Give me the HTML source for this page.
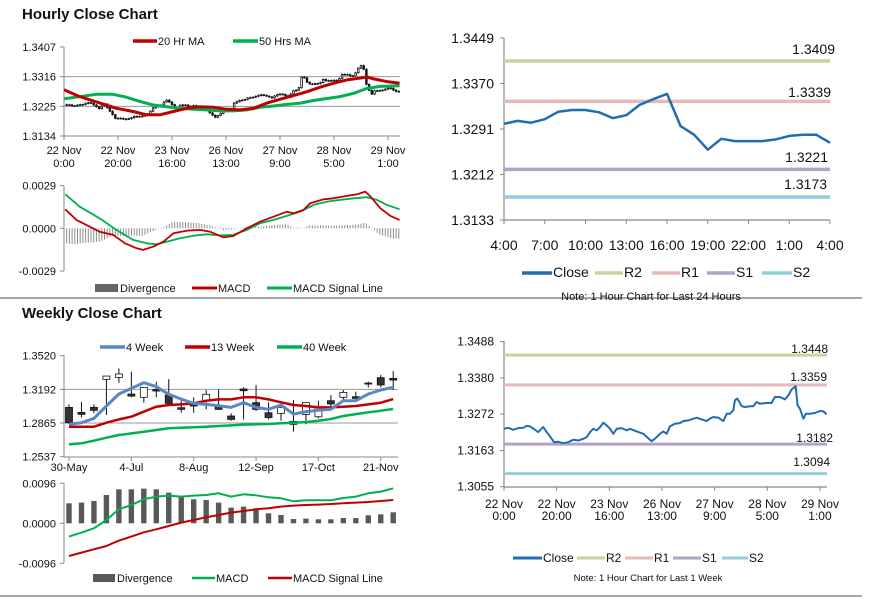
<!DOCTYPE html>
<html><head><meta charset="utf-8"><style>
html,body{margin:0;padding:0;background:#fff;width:873px;height:601px;overflow:hidden}
svg{display:block;font-family:"Liberation Sans",Arial,sans-serif}
</style></head><body>
<svg id="chart" width="873" height="601" viewBox="0 0 873 601" xmlns="http://www.w3.org/2000/svg">
<text x="22" y="19" font-size="15" font-weight="bold" fill="#111">Hourly Close Chart</text>
<text x="22" y="318" font-size="15" font-weight="bold" fill="#111">Weekly Close Chart</text>
<line x1="0" y1="298" x2="862" y2="298" stroke="#888" stroke-width="1.5"/>
<line x1="0" y1="596" x2="862" y2="596" stroke="#888" stroke-width="1.5"/>
</svg>
<script>
// ---------- data ----------
const hcHours=[0,1.6,3.5,5.4,7.3,8.6,9.9,11.8,13,14.9,16.5,17.5,19,20.6,22.5,24.4,26.3,28.2,30.1,31.4,32.7,33.9,35.2,36.5,37.7,39,40.3,41.5,42.8,44.7,46.6,47.8,50.4,52.9,55.4,56.1,58,59.2,60.5,61.8,63,64.9,66.8,68.1,70,71.9,73.2,75.1,77,78.2,79.5,81.4,83.3,84.6,85.8,87.1,87.7,88.6,90.3,91.5,93.4,94.7,95.9,97.2,99.7,101.6,102.9,104.8,106.7,108,109.2,110.8,111.5,112.4,113.7,114.7,116.2,118.1,120,121.3,122.5];
const hcValues=[1.3228,1.3231,1.3225,1.3230,1.3231,1.3237,1.3235,1.3225,1.3218,1.3233,1.3215,1.3205,1.3188,1.3189,1.3185,1.3188,1.3195,1.3193,1.3198,1.3203,1.3218,1.3228,1.3223,1.3233,1.3246,1.3238,1.3228,1.3213,1.3228,1.3230,1.3223,1.3228,1.3220,1.3213,1.3195,1.3191,1.3203,1.3213,1.3220,1.3213,1.3235,1.3243,1.3245,1.3251,1.3253,1.3258,1.3261,1.3256,1.3251,1.3258,1.3263,1.3261,1.3251,1.3273,1.3273,1.3283,1.3313,1.3318,1.3295,1.3293,1.3295,1.3295,1.3308,1.3303,1.3305,1.3305,1.3323,1.3323,1.3316,1.3328,1.3345,1.3355,1.3298,1.3288,1.3258,1.3273,1.3273,1.3275,1.3281,1.3280,1.3271];
const ma20Hours=[0,5.8,13.3,19.4,25.6,30.6,35.5,40.5,45.4,50.4,55.3,60.3,65.2,70.2,75.1,80.1,85,90,95,99.9,104.8,109.8,112.3,114.7,119.7,124.3];
const ma20Values=[1.3276,1.3255,1.3235,1.3219,1.3209,1.3199,1.3199,1.3209,1.3219,1.3224,1.3222,1.3216,1.3214,1.3219,1.3235,1.3247,1.3258,1.3270,1.3284,1.3296,1.3306,1.3312,1.3315,1.3309,1.3301,1.3296];
const ma50Hours=[0,5.8,12,18.2,23.1,28.1,33,38,42.9,47.9,52.8,57.8,62.7,67.7,72.6,77.6,82.5,87.5,92.4,97.4,102.3,107.3,112.2,117.2,124.3];
const ma50Values=[1.3248,1.3255,1.3262,1.3262,1.3253,1.3240,1.3229,1.3224,1.3219,1.3216,1.3214,1.3211,1.3211,1.3214,1.3222,1.3226,1.3231,1.3235,1.3243,1.3249,1.3255,1.3265,1.3280,1.3286,1.3288];
const hMacdHours=[0.5,4.6,9.5,13.2,18.2,22.6,26.9,29.3,33,36.8,40.5,45.4,50.4,54.1,59,62.7,67.7,72.6,77.6,82.5,85,88.7,91.2,96.2,99.9,104.8,108.5,111.6,113.5,117.2,120.9,124.3];
const hMacdValues=[0.00129,0.00057,0.00011,-0.00023,-0.00045,-0.00102,-0.00136,-0.00147,-0.00125,-0.00091,-0.00034,-0.00016,-0.00011,-0.00023,-0.00061,-0.00052,0,0.00045,0.00079,0.00113,0.00102,0.00125,0.0017,0.00197,0.00204,0.0022,0.00231,0.00249,0.00215,0.00136,0.00084,0.00057];
const hSigHours=[0.5,5.8,13.2,19.4,25.6,30.6,34.3,38,43,47.9,52.8,57.8,62.7,67.7,72.6,77.6,82.5,87.5,92.4,97.4,102.3,107.3,112.2,115.9,119.6,124.3];
const hSigValues=[0.00231,0.00147,0.00068,-0.00011,-0.00079,-0.00102,-0.00109,-0.00091,-0.00068,-0.0005,-0.00041,-0.00048,-0.00045,-0.00011,0.00034,0.00057,0.00084,0.00113,0.00159,0.00181,0.00193,0.00204,0.00211,0.00193,0.00159,0.00129];
const hourlyXLabels1=["22 Nov","22 Nov","23 Nov","26 Nov","27 Nov","28 Nov","29 Nov"];
const hourlyXLabels2=["0:00","20:00","16:00","13:00","9:00","5:00","1:00"];
const hourlyPriceTicks=[1.3407,1.3316,1.3225,1.3134];
const hourlyMacdTicks=[0.0029,0.0000,-0.0029];
const wOpen=[1.3017,1.2968,1.3017,1.3290,1.3309,1.3147,1.3115,1.3192,1.3137,1.3014,1.3046,1.3082,1.3030,1.2933,1.3196,1.3063,1.2965,1.2959,1.2852,1.2949,1.2926,1.3082,1.3115,1.3121,1.3254,1.3306,1.3299];
const wClose=[1.2868,1.2949,1.2988,1.3322,1.3342,1.3127,1.3212,1.3176,1.3056,1.2998,1.3030,1.3144,1.2998,1.2900,1.3179,1.2998,1.2917,1.3017,1.2881,1.3063,1.3017,1.3050,1.3163,1.3105,1.3244,1.3235,1.3283];
const wHigh=[1.3046,1.3069,1.3046,1.3322,1.3397,1.3364,1.3212,1.3267,1.3293,1.3089,1.3115,1.3186,1.3192,1.2959,1.3212,1.3235,1.3066,1.3066,1.3089,1.3063,1.3082,1.3137,1.3186,1.3170,1.3267,1.3332,1.3371];
const wLow=[1.2855,1.2920,1.2959,1.2943,1.3257,1.3115,1.3063,1.3115,1.3040,1.2965,1.2965,1.2998,1.2991,1.2887,1.2900,1.2982,1.2900,1.2887,1.2780,1.2852,1.2910,1.3024,1.3089,1.3072,1.3212,1.3212,1.3186];
const ma4w=[1.2852,1.2868,1.2910,1.3030,1.3147,1.3202,1.3257,1.3218,1.3144,1.3098,1.3056,1.3046,1.3033,1.3017,1.3063,1.3017,1.2998,1.3040,1.2952,1.2975,1.2991,1.2998,1.3082,1.3082,1.3147,1.3186,1.3212];
const ma13w=[1.2829,1.2829,1.2829,1.2868,1.2900,1.2926,1.2975,1.3024,1.3040,1.3046,1.3056,1.3082,1.3095,1.3095,1.3115,1.3115,1.3095,1.3066,1.3040,1.3030,1.3017,1.3017,1.3024,1.3030,1.3046,1.3063,1.3098];
const ma40w=[1.2657,1.2667,1.2693,1.2722,1.2748,1.2764,1.2780,1.2797,1.2813,1.2819,1.2823,1.2829,1.2836,1.2842,1.2849,1.2852,1.2855,1.2862,1.2868,1.2874,1.2887,1.2904,1.2933,1.2952,1.2969,1.2985,1.3001];
const wDiv=[0.0048,0.00496,0.00536,0.0068,0.00816,0.00816,0.00832,0.00816,0.00736,0.00656,0.00576,0.0056,0.00496,0.00376,0.004,0.0036,0.0024,0.002,0.00104,0.00112,0.00096,0.00096,0.00128,0.00128,0.00192,0.00216,0.00264];
const wMacd=[-0.0032,-0.00224,-0.0012,0.0008,0.00336,0.0044,0.00576,0.0064,0.00664,0.0064,0.00664,0.0068,0.0072,0.0064,0.00696,0.00672,0.00624,0.006,0.00528,0.00552,0.00552,0.00552,0.00608,0.0064,0.0072,0.0076,0.0084];
const wSignal=[-0.00784,-0.00704,-0.00624,-0.00544,-0.00416,-0.0032,-0.00216,-0.00144,-0.00064,0.00016,0.0008,0.00144,0.002,0.00256,0.00296,0.00336,0.0036,0.004,0.00424,0.0044,0.00448,0.00464,0.0048,0.00496,0.00512,0.00536,0.0056];
const weeklyXLabels=["30-May","4-Jul","8-Aug","12-Sep","17-Oct","21-Nov"];
const weeklyPriceTicks=[1.3520,1.3192,1.2865,1.2537];
const weeklyMacdTicks=[0.0096,0.0000,-0.0096];
const dayClose=[1.3300,1.3305,1.3302,1.3308,1.3321,1.3324,1.3324,1.3320,1.3310,1.3315,1.3333,1.3343,1.3352,1.3296,1.3281,1.3255,1.3274,1.3270,1.3270,1.3270,1.3273,1.3279,1.3281,1.3281,1.3267];
const dayLabels=["4:00","7:00","10:00","13:00","16:00","19:00","22:00","1:00","4:00"];
const dayTicks=[1.3449,1.3370,1.3291,1.3212,1.3133];
const dayLevelNames=["R2","R1","S1","S2"];
const dayLevels=[1.3409,1.3339,1.3221,1.3173];
const weekTicks=[1.3488,1.3380,1.3272,1.3163,1.3055];
const weekLevels=[1.3448,1.3359,1.3182,1.3094];
const levelColors=["#c3d69b","#e6b9b8","#b3a2c7","#93cddd"];

// ---------- helpers ----------
const NS='http://www.w3.org/2000/svg';
const svg=document.getElementById('chart');
function mk(tag){const e=document.createElementNS(NS,tag);svg.appendChild(e);return e;}
function ln(x1,y1,x2,y2,stroke,w,name){const e=mk('line');
e.setAttribute('x1',x1);e.setAttribute('y1',y1);e.setAttribute('x2',x2);e.setAttribute('y2',y2);
e.setAttribute('stroke',stroke);e.setAttribute('stroke-width',w);


return e;}
function tx(x,y,s,size,anchor,name){const e=mk('text');
e.setAttribute('x',x);e.setAttribute('y',y);e.setAttribute('font-size',size);e.setAttribute('text-anchor',anchor);e.setAttribute('fill','#111');
e.textContent=s;


return e;}
function pl(pts,stroke,w,name){const e=mk('polyline');
e.setAttribute('points',pts.map(p=>p[0].toFixed(1)+','+p[1].toFixed(1)).join(' '));
e.setAttribute('fill','none');e.setAttribute('stroke',stroke);e.setAttribute('stroke-width',w);e.setAttribute('stroke-linejoin','round');


return e;}
function rc(x,y,w,h,fill,stroke,name){const e=mk('rect');
e.setAttribute('x',x);e.setAttribute('y',y);e.setAttribute('width',w);e.setAttribute('height',Math.max(h,0.8));
e.setAttribute('fill',fill);if(stroke){e.setAttribute('stroke',stroke);e.setAttribute('stroke-width',0.8);}


return e;}
function interp(xs,ys,x){if(x<=xs[0])return ys[0];for(let i=1;i<xs.length;i++){if(x<=xs[i]){const t=(x-xs[i-1])/(xs[i]-xs[i-1]);return ys[i-1]+t*(ys[i]-ys[i-1]);}}return ys[ys.length-1];}
function legend(x1,x2,y,color,w,label,size,name){ln(x1,y-4,x2,y-4,color,w,name+'-swatch');tx(x2+1,y,label,size,'start',name+'-label');}
const GRID='#9a9a9a',AX='#888';

// ---------- hourly price ----------
const hx=h=>64+h*2.7, hp=v=>47+(1.3407-v)/0.0273*89, hm=v=>228.3-v/0.0029*42.7;
hourlyPriceTicks.forEach((t,i)=>{const y=hp(t);if(i>0&&i<3)ln(64,y,400,y,GRID,1,'hourly-gridline');ln(60,y,64,y,AX,1,'hourly-y-tick');tx(56,y+4,t.toFixed(4),11,'end','hourly-y-label');});
ln(64,47,64,136,AX,1,'hourly-y-axis');ln(64,136,400,136,AX,1,'hourly-x-axis');
hourlyXLabels1.forEach((l,i)=>{const x=hx(i*20);ln(x,136,x,140,AX,1,'hourly-x-tick');tx(x,154,l,11,'middle','hourly-x-label-date');tx(x,167,hourlyXLabels2[i],11,'middle','hourly-x-label-time');});
for(let h=1;h<=124;h++){const c=interp(hcHours,hcValues,h),o=interp(hcHours,hcValues,h-1);const x=hx(h);
ln(x,hp(Math.max(o,c)+0.0003),x,hp(Math.min(o,c)-0.0003),'#111',0.8,'hourly-candle-wick');
rc(x-0.8,hp(Math.max(o,c)),1.6,hp(Math.min(o,c))-hp(Math.max(o,c)),c<o?'#111':'#fff','#111','hourly-candle-body');}
pl(ma50Hours.map((h,i)=>[hx(h),hp(ma50Values[i])]),'#00b050',3,'hourly-50h-ma-line');
pl(ma20Hours.map((h,i)=>[hx(h),hp(ma20Values[i])]),'#c00000',3,'hourly-20h-ma-line');
legend(133,157,45,'#c00000',3.5,'20 Hr MA',11,'legend-20h-ma');
legend(233,258,45,'#00b050',3.5,'50 Hrs MA',11,'legend-50h-ma');

// ---------- hourly MACD ----------
hourlyMacdTicks.forEach(t=>{const y=hm(t);ln(60,y,64,y,AX,1,'hourly-macd-y-tick');tx(56,y+4,t.toFixed(4),11,'end','hourly-macd-y-label');});
ln(64,186,64,271,AX,1,'hourly-macd-y-axis');
for(let h=0;h<=124;h++){const d=interp(hMacdHours,hMacdValues,h)-interp(hSigHours,hSigValues,h);ln(hx(h),hm(0),hx(h),hm(d),'#8a8a8a',1,'hourly-divergence-bar');}
pl(hSigHours.map((h,i)=>[hx(h),hm(hSigValues[i])]),'#00b050',1.8,'hourly-macd-signal-line');
pl(hMacdHours.map((h,i)=>[hx(h),hm(hMacdValues[i])]),'#c00000',1.8,'hourly-macd-line');
rc(95,284,23,8,'#666',null,'legend-divergence-swatch');tx(120,292,'Divergence',11,'start','legend-divergence-label');
legend(192,217,292,'#c00000',3,'MACD',11,'legend-hourly-macd');
legend(267,292,292,'#00b050',3,'MACD Signal Line',11,'legend-hourly-signal');

// ---------- weekly price ----------
const wx=i=>69+i*12.47, wp=v=>355.7+(1.3520-v)/0.0983*101, wm=v=>523.3-v/0.0096*40;
weeklyPriceTicks.forEach((t,i)=>{const y=wp(t);if(i>0&&i<3)ln(64,y,398,y,GRID,1,'weekly-gridline');ln(60,y,64,y,AX,1,'weekly-y-tick');tx(56,y+4,t.toFixed(4),11,'end','weekly-y-label');});
ln(64,355,64,457,AX,1,'weekly-y-axis');ln(64,457,398,457,AX,1,'weekly-x-axis');
weeklyXLabels.forEach((l,i)=>{const x=wx(i*5);ln(x,457,x,461,AX,1,'weekly-x-tick');tx(x,471,l,11,'middle','weekly-x-label');});
wOpen.forEach((o,i)=>{const c=wClose[i],x=wx(i);ln(x,wp(wHigh[i]),x,wp(wLow[i]),'#111',1,'weekly-candle-wick');
rc(x-3.5,wp(Math.max(o,c)),7,wp(Math.min(o,c))-wp(Math.max(o,c)),c<o?'#333':'#fff','#111','weekly-candle-body');});
pl(ma40w.map((v,i)=>[wx(i),wp(v)]),'#00b050',2.5,'weekly-40w-ma-line');
pl(ma13w.map((v,i)=>[wx(i),wp(v)]),'#c00000',2.5,'weekly-13w-ma-line');
pl(ma4w.map((v,i)=>[wx(i),wp(v)]),'#5b87c4',3,'weekly-4w-ma-line');
legend(100,125,351,'#5b87c4',3.5,'4 Week',11,'legend-4w');
legend(185,210,351,'#c00000',3.5,'13 Week',11,'legend-13w');
legend(277,302,351,'#00b050',3.5,'40 Week',11,'legend-40w');

// ---------- weekly MACD ----------
weeklyMacdTicks.forEach(t=>{const y=wm(t);ln(60,y,64,y,AX,1,'weekly-macd-y-tick');tx(56,y+4,t.toFixed(4),11,'end','weekly-macd-y-label');});
ln(64,483,64,563,AX,1,'weekly-macd-y-axis');
wDiv.forEach((d,i)=>{rc(wx(i)-2.7,wm(Math.max(d,0)),5.4,Math.abs(wm(d)-wm(0)),'#595959',null,'weekly-divergence-bar');});
pl(wSignal.map((v,i)=>[wx(i),wm(v)]),'#c00000',2,'weekly-macd-signal-line');
pl(wMacd.map((v,i)=>[wx(i),wm(v)]),'#00b050',2,'weekly-macd-line');
rc(93,574,22,8,'#595959',null,'legend-weekly-divergence-swatch');tx(117,582,'Divergence',11,'start','legend-weekly-divergence-label');
legend(192,215,582,'#00b050',2.5,'MACD',11,'legend-weekly-macd');
legend(268,292,582,'#c00000',2.5,'MACD Signal Line',11,'legend-weekly-signal');

// ---------- right top ----------
const dx=i=>504+i*(326/24), dy=v=>38+(1.3449-v)/0.0316*182;
dayTicks.forEach(t=>{const y=dy(t);ln(500,y,504,y,AX,1,'day-y-tick');tx(494,y+5,t.toFixed(4),14,'end','day-y-label');});
ln(504,38,504,220,AX,1.2,'day-y-axis');ln(504,220,830,220,AX,1.2,'day-x-axis');
dayLabels.forEach((l,i)=>{const x=dx(i*3);ln(x,220,x,224,AX,1,'day-x-tick');tx(x,250,l,14,'middle','day-x-label');});
const dLblY=[54,97,162,189],dLblX=[835,831,828,827];
dayLevels.forEach((v,i)=>{ln(504,dy(v),830,dy(v),levelColors[i],3.5,'day-level-'+dayLevelNames[i].toLowerCase());tx(dLblX[i],dLblY[i],v.toFixed(4),14,'end','day-level-label');});
pl(dayClose.map((v,i)=>[dx(i),dy(v)]),'#1f6db3',2.5,'day-close-line');
const dLeg=[[522,552,'Close','#1f6db3'],[595,623,'R2',levelColors[0]],[652,680,'R1',levelColors[1]],[707,735,'S1',levelColors[2]],[762,792,'S2',levelColors[3]]];
dLeg.forEach(d=>legend(d[0],d[1],277,d[3],3.5,d[2],14,'day-legend-'+d[2].toLowerCase()));
tx(651,300,'Note: 1 Hour Chart for Last 24 Hours',11,'middle','day-note');

// ---------- right bottom ----------
const rx=h=>504+h*2.633, ry=v=>341.7+(1.3488-v)/0.0433*145;
weekTicks.forEach(t=>{const y=ry(t);ln(500,y,504,y,AX,1,'week-y-tick');tx(494,y+4,t.toFixed(4),12,'end','week-y-label');});
ln(504,341,504,487,AX,1.2,'week-y-axis');ln(504,487,827,487,AX,1.2,'week-x-axis');
hourlyXLabels1.forEach((l,i)=>{const x=rx(i*20);ln(x,487,x,491,AX,1,'week-x-tick');tx(x,508,l,12,'middle','week-x-label-date');tx(x,520,hourlyXLabels2[i],12,'middle','week-x-label-time');});
const wLblY=[353,381,442,466],wLblX=[828,827,833,830];
weekLevels.forEach((v,i)=>{ln(504,ry(v),827,ry(v),levelColors[i],3,'week-level-'+dayLevelNames[i].toLowerCase());tx(wLblX[i],wLblY[i],v.toFixed(4),12,'end','week-level-label');});
pl(hcHours.map((h,i)=>[rx(h),ry(hcValues[i])]),'#1f6db3',2,'week-close-line');
const rLeg=[[513,542,'Close','#1f6db3'],[577,605,'R2',levelColors[0]],[625,653,'R1',levelColors[1]],[673,701,'S1',levelColors[2]],[722,748,'S2',levelColors[3]]];
rLeg.forEach(d=>legend(d[0],d[1],562,d[3],3,d[2],12,'week-legend-'+d[2].toLowerCase()));
tx(648,581,'Note: 1 Hour Chart for  Last 1 Week',9.5,'middle','week-note');
</script>
</body></html>
